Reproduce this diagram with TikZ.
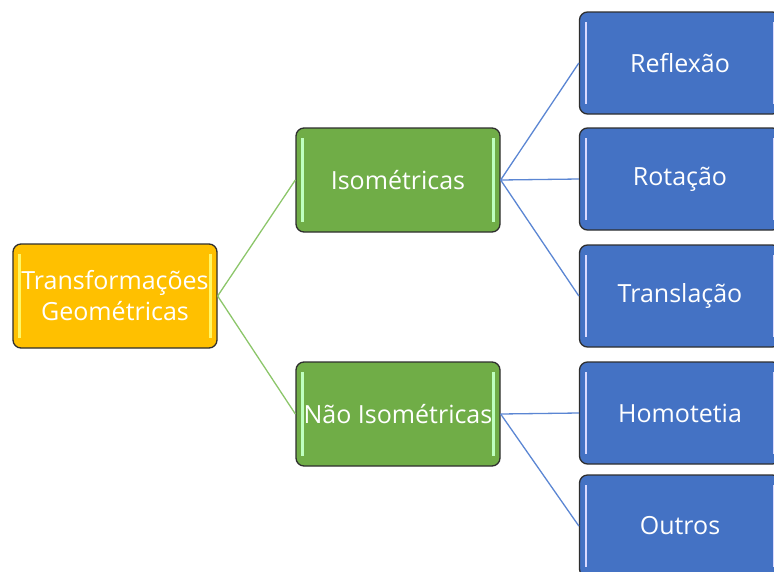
\documentclass[tikz,border=0pt]{standalone}
\usepackage{fontspec}
\setmainfont{Open Sans}
\definecolor{orangeF}{HTML}{FFC000}
\definecolor{greenF}{HTML}{70AD47}
\definecolor{blueF}{HTML}{4472C4}
\definecolor{greenL}{HTML}{8CC66A}
\definecolor{blueL}{HTML}{5B86D3}
\definecolor{edgeC}{HTML}{2E2E2E}
\begin{document}
\begin{tikzpicture}[x=1pt,y=-1pt,
  box/.style={draw=edgeC, line width=1.3pt, rounded corners=8pt, minimum width=204pt, minimum height=104pt,
    text=white, font=\fontsize{25}{31}\selectfont, align=center, inner sep=0pt},
  orangebox/.style={box, fill=orangeF},
  greenbox/.style={box, fill=greenF},
  bluebox/.style={box, fill=blueF, minimum width=201pt, minimum height=102pt},
  glink/.style={draw=greenL, line width=1.3pt},
  blink/.style={draw=blueL, line width=1.3pt},
  ybar/.style={draw=yellow!60!white, line width=2.5pt},
  gbar/.style={draw=green!25!white, line width=2.5pt},
  bbar/.style={draw=blue!15!white, line width=2.5pt}]
\useasboundingbox (0,0) rectangle (774,571);
\node[orangebox] (root) at (115,296) {Transformações\\Geométricas};
\node[greenbox] (iso) at (398,180) {Isométricas};
\node[greenbox] (niso) at (398,414) {Não Isométricas};
\node[bluebox] (r1) at (680,63) {Reflexão};
\node[bluebox] (r2) at (680,179) {Rotação};
\node[bluebox] (r3) at (680,296) {Translação};
\node[bluebox] (r4) at (680,413) {Homotetia};
\node[bluebox] (r5) at (680,526) {Outros};
% highlight bars
\foreach \n/\s in {root/ybar,iso/gbar,niso/gbar,r1/bbar,r2/bbar,r3/bbar,r4/bbar,r5/bbar}{
  \draw[\s] ([xshift=7pt,yshift=-11pt]\n.north west) -- ([xshift=7pt,yshift=11pt]\n.south west);
  \draw[\s] ([xshift=-7pt,yshift=-11pt]\n.north east) -- ([xshift=-7pt,yshift=11pt]\n.south east);
}
% connectors
\draw[glink] (root.east) -- (iso.west);
\draw[glink] (root.east) -- (niso.west);
\draw[blink] (iso.east) -- (r1.west);
\draw[blink] (iso.east) -- (r2.west);
\draw[blink] (iso.east) -- (r3.west);
\draw[blink] (niso.east) -- (r4.west);
\draw[blink] (niso.east) -- (r5.west);
\end{tikzpicture}
\end{document}
